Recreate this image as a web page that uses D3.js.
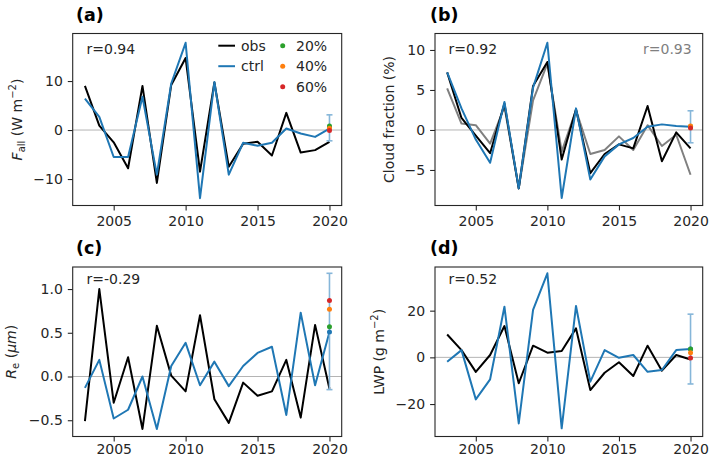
<!DOCTYPE html>
<html><head><meta charset="utf-8">
<script src="https://cdn.jsdelivr.net/npm/d3@7/dist/d3.min.js"></script>
<style>
body{margin:0;background:#fff}
svg{display:block;font-family:"DejaVu Sans",sans-serif}
</style>
</head><body>
<svg id="chart" width="709" height="458"></svg>
<script>
// ---------------- data ----------------
const years = [2003,2004,2005,2006,2007,2008,2009,2010,2011,2012,2013,2014,2015,2016,2017,2018,2019,2020];
const xTicks = [2005, 2010, 2015, 2020];

// (a) F_all (W m-2)
const fallObs  = [9.0,0.9,-2.5,-7.8,9.0,-10.8,9.2,14.7,-8.5,9.7,-7.5,-2.8,-2.4,-5.2,3.5,-4.6,-4.1,-2.4];
const fallCtrl = [6.4,2.7,-5.5,-5.5,6.8,-9.1,9.5,17.8,-13.9,9.8,-9.1,-2.6,-3.2,-2.6,0.3,-0.7,-1.4,0.3];
const fallErr  = [-2.2, 0.3, 3.1];          // low, centre, high (2020)
const fallPct  = [0.8, 0.35, -0.1];         // 20%, 40%, 60%
const fallTicks = [-10, 0, 10];

// (b) Cloud fraction (%)
const cfObs  = [7.2,1.5,-0.7,-2.9,3.3,-7.3,5.5,8.5,-3.7,2.6,-5.4,-3.0,-1.8,-2.3,3.0,-3.9,-0.3,-2.3];
const cfCtrl = [7.2,2.7,-1.2,-4.1,3.5,-7.3,5.3,10.9,-8.5,2.7,-6.2,-3.3,-1.8,-1.0,0.4,0.7,0.5,0.4];
const cfAlt  = [5.2,0.8,0.6,-1.7,2.9,-7.3,3.7,8.3,-2.7,2.5,-3.0,-2.5,-0.8,-2.5,0.6,-2.0,-0.6,-5.6];
const cfErr  = [-1.6, 0.4, 2.4];
const cfPct  = [0.45, 0.5, 0.25];
const cfTicks = [-5, 0, 5, 10];

// (c) Re (um)
const reObs  = [-0.51,1.0,-0.30,0.22,-0.60,0.58,0.01,-0.17,0.70,-0.26,-0.53,-0.07,-0.22,-0.17,0.19,-0.47,0.59,-0.14];
const reCtrl = [-0.13,0.19,-0.48,-0.38,0.0,-0.60,0.12,0.385,-0.10,0.17,-0.11,0.12,0.27,0.34,-0.44,0.73,-0.10,0.51];
const reErr  = [-0.15, 0.51, 1.18];
const rePct  = [0.57, 0.77, 0.87];
const reTicks = [-0.5, 0.0, 0.5, 1.0];

// (d) LWP (g m-2)
const lwpObs  = [9.8,3.1,-6.2,1.0,13.4,-11.1,5.0,2.0,2.7,12.4,-14.0,-6.6,-2.1,-8.0,5.0,-5.7,1.0,-0.9];
const lwpCtrl = [-1.9,3.1,-18.0,-9.4,21.7,-28.3,20.3,36.0,-30.4,22.0,-10.4,3.1,-0.2,1.0,-6.2,-5.4,3.1,3.6];
const lwpErr  = [-11.4, 3.6, 18.5];
const lwpPct  = [3.6, 2.0, -0.3];
const lwpTicks = [-20, 0, 20];

const corrText = ["r=0.94", "r=0.92", "r=-0.29", "r=0.52"];
const corrAltText = "r=0.93";
const legendSeries = ["obs", "ctrl"];
const legendPct = ["20%", "40%", "60%"];

// ---------------- style / layout ----------------
const C = {obs:"#000000", ctrl:"#1f77b4", alt:"#808080", err:"#86b6d9",
           pct:["#2ca02c","#ff7f0e","#d62728"], zero:"#b4b4b4", text:"#262626"};
const FS = 14;
const svg = d3.select("#chart");

const panels = [
  {tag:"(a)", box:[72.7,341.7,33.5,205.5], ydom:[-15.4,19.7], obs:fallObs, ctrl:fallCtrl, err:fallErr, pct:fallPct, ticks:fallTicks, fmt:d3.format(".0f"),
   r:corrText[0], rPos:[86.5,53.5], labX:21.5, title:[76,20.5], ylab:"a", xpad:6},
  {tag:"(b)", box:[435,702.7,33.5,205.5], ydom:[-9.44,12.06], obs:cfObs, ctrl:cfCtrl, alt:cfAlt, err:cfErr, pct:cfPct, ticks:cfTicks, fmt:d3.format(".0f"),
   r:corrText[1], rPos:[448.5,53.5], labX:394, title:[430,20.5], ylab:"b", xpad:6},
  {tag:"(c)", box:[72.7,341.7,267,436.5], ydom:[-0.686,1.252], obs:reObs, ctrl:reCtrl, err:reErr, pct:rePct, ticks:reTicks, fmt:d3.format(".1f"),
   r:corrText[2], rPos:[86.5,283.5], labX:15.5, title:[76,254], ylab:"c", xpad:3},
  {tag:"(d)", box:[435,702.7,267,436.5], ydom:[-33.9,38.7], obs:lwpObs, ctrl:lwpCtrl, err:lwpErr, pct:lwpPct, ticks:lwpTicks, fmt:d3.format(".0f"),
   r:corrText[3], rPos:[448.5,283.5], labX:383.5, title:[430,254], ylab:"d", xpad:3}
];

const minus = s => s.replace(/-/g, "\u2212");

panels.forEach((p, i) => {
  const [l, r, t, b] = p.box;
  const x = d3.scaleLinear().domain([2002.15, 2020.85]).range([l, r]);
  const y = d3.scaleLinear().domain(p.ydom).range([b, t]);
  const g = svg.append("g");
  const clipId = "clip" + i;
  svg.append("clipPath").attr("id", clipId).append("rect")
     .attr("x", l).attr("y", t).attr("width", r - l).attr("height", b - t);

  // zero line
  g.append("line").attr("x1", l).attr("x2", r).attr("y1", y(0)).attr("y2", y(0))
   .attr("stroke", C.zero).attr("stroke-width", 1);

  const plot = g.append("g").attr("clip-path", `url(#${clipId})`);
  const line = d3.line().x((d, k) => x(years[k])).y(d => y(d));
  if (p.alt) plot.append("path").attr("d", line(p.alt)).attr("fill", "none")
      .attr("stroke", C.alt).attr("stroke-width", 2).attr("stroke-linejoin", "round");
  plot.append("path").attr("d", line(p.obs)).attr("fill", "none")
      .attr("stroke", C.obs).attr("stroke-width", 2).attr("stroke-linejoin", "round");
  plot.append("path").attr("d", line(p.ctrl)).attr("fill", "none")
      .attr("stroke", C.ctrl).attr("stroke-width", 2).attr("stroke-linejoin", "round");

  // error bar at last year
  const ex = x(years[years.length - 1]);
  g.append("line").attr("x1", ex).attr("x2", ex).attr("y1", y(p.err[0])).attr("y2", y(p.err[2]))
   .attr("stroke", C.err).attr("stroke-width", 1.6);
  [p.err[0], p.err[2]].forEach(v => g.append("line").attr("x1", ex - 3).attr("x2", ex + 3)
   .attr("y1", y(v)).attr("y2", y(v)).attr("stroke", C.err).attr("stroke-width", 1.6));
  g.append("circle").attr("cx", ex).attr("cy", y(p.err[1])).attr("r", 2.5).attr("fill", C.ctrl);
  p.pct.forEach((v, k) => g.append("circle").attr("cx", ex).attr("cy", y(v)).attr("r", 2.5).attr("fill", C.pct[k]));

  // axes
  const ax = g.append("g").attr("transform", `translate(0,${b})`)
    .call(d3.axisBottom(x).tickValues(xTicks).tickFormat(d3.format("d")).tickSize(4.9).tickPadding(p.xpad).tickSizeOuter(0));
  const ay = g.append("g").attr("transform", `translate(${l},0)`)
    .call(d3.axisLeft(y).tickValues(p.ticks).tickFormat(d => minus(p.fmt(d))).tickSize(4.9).tickPadding(5).tickSizeOuter(0));
  [ax, ay].forEach(a => {
    a.select(".domain").remove();
    a.selectAll("line").attr("stroke", C.text).attr("stroke-width", 1.1);
    a.selectAll("text").attr("fill", C.text).style("font-size", FS + "px").style("font-family", '"DejaVu Sans",sans-serif');
  });

  // frame
  g.append("rect").attr("x", l).attr("y", t).attr("width", r - l).attr("height", b - t)
   .attr("fill", "none").attr("stroke", C.text).attr("stroke-width", 1.1);

  // panel tag
  g.append("text").attr("x", p.title[0]).attr("y", p.title[1]).text(p.tag)
   .attr("font-weight", "bold").attr("font-size", 17.5).attr("fill", "#000");

  // correlation
  g.append("text").attr("x", p.rPos[0]).attr("y", p.rPos[1]).text(p.r)
   .attr("font-size", FS).attr("fill", C.text);

  // y label
  const yl = g.append("text").attr("transform", `translate(${p.labX},${(t + b) / 2}) rotate(-90)`)
    .attr("text-anchor", "middle").attr("font-size", FS).attr("fill", C.text);
  if (p.ylab === "a") {
    yl.append("tspan").attr("font-style", "italic").text("F");
    yl.append("tspan").attr("font-size", 10).attr("dy", 3).text("all");
    yl.append("tspan").attr("dy", -3).text(" (W m");
    yl.append("tspan").attr("font-size", 10).attr("dy", -6).text("\u22122");
    yl.append("tspan").attr("dy", 6).text(")");
  } else if (p.ylab === "b") {
    yl.text("Cloud fraction (%)");
  } else if (p.ylab === "c") {
    yl.append("tspan").attr("font-style", "italic").text("R");
    yl.append("tspan").attr("font-size", 10).attr("dy", 3).text("e");
    yl.append("tspan").attr("dy", -3).text(" (");
    yl.append("tspan").attr("font-style", "italic").text("\u03bcm");
    yl.append("tspan").text(")");
  } else {
    yl.append("tspan").text("LWP (g m");
    yl.append("tspan").attr("font-size", 10).attr("dy", -6).text("\u22122");
    yl.append("tspan").attr("dy", 6).text(")");
  }

  if (p.alt) {
    g.append("text").attr("x", 691.7).attr("y", p.rPos[1]).attr("text-anchor", "end")
     .text(corrAltText).attr("font-size", FS).attr("fill", C.alt);
  }

  // legend (panel a)
  if (i === 0) {
    const rows = [45.7, 66.2, 86.7];
    legendSeries.forEach((s, k) => {
      g.append("line").attr("x1", 218.3).attr("x2", 235).attr("y1", rows[k]).attr("y2", rows[k])
       .attr("stroke", k === 0 ? C.obs : C.ctrl).attr("stroke-width", 2);
      g.append("text").attr("x", 241).attr("y", rows[k] + 5).text(s).attr("font-size", FS).attr("fill", C.text);
    });
    legendPct.forEach((s, k) => {
      g.append("circle").attr("cx", 282.7).attr("cy", rows[k]).attr("r", 2.5).attr("fill", C.pct[k]);
      g.append("text").attr("x", 296).attr("y", rows[k] + 5).text(s).attr("font-size", FS).attr("fill", C.text);
    });
  }
});
</script>
</body></html>
